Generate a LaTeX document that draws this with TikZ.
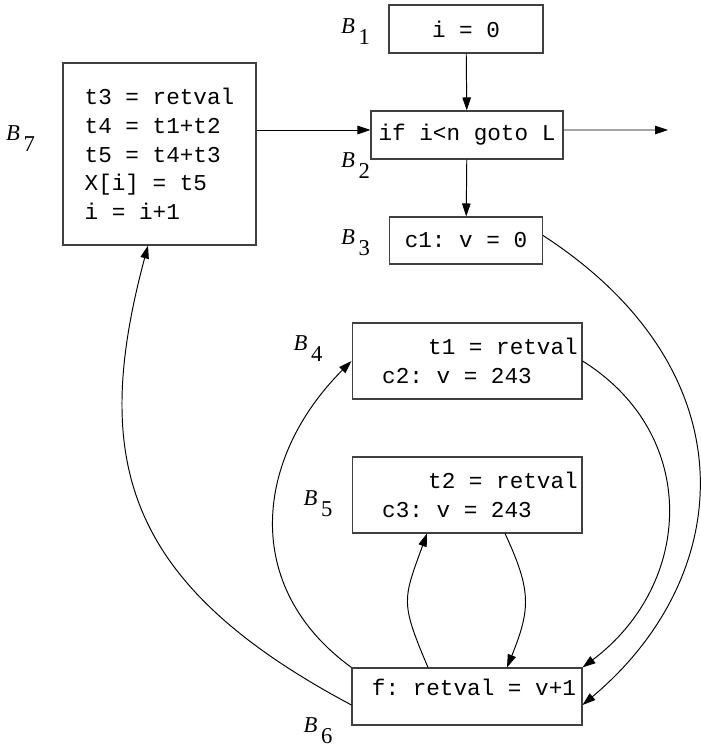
\documentclass[tikz,border=0pt]{standalone}
\usepackage{fontspec}
\setmainfont{Liberation Serif}
\setmonofont{Liberation Mono}
\usetikzlibrary{arrows.meta}

\newcommand{\blab}[1]{\textit{B}\hspace{2pt}\raisebox{-6.2pt}{#1}}

\begin{document}
\begin{tikzpicture}[
  x=0.02cm, y=0.02cm,
  blk/.style={draw=black!75, line width=0.6pt, inner sep=0pt, font=\fontsize{12.9}{16.3}\selectfont\ttfamily},
  lbl/.style={inner sep=0pt, font=\fontsize{12.9}{14}\selectfont},
  conn/.style={-{Triangle[length=0.26cm, width=0.17cm]}, line width=0.55pt}
]
\useasboundingbox (0,0) rectangle (700,747);

% basic blocks
\node[blk, minimum width=3.08cm, minimum height=0.96cm] (b1) at (466,718) {i = 0};
\node[blk, minimum width=3.84cm, minimum height=0.96cm] (b2) at (467,612) {if i<n goto L};
\node[blk, minimum width=3.06cm, minimum height=0.94cm] (b3) at (466,506.5) {c1: v = 0};
\node[blk, minimum width=3.86cm, minimum height=3.64cm, align=left] (b7) at (159.5,593)
  {t3 = retval\\t4 = t1+t2\\t5 = t4+t3\\X[i] = t5\\i = i+1};
\node[blk, minimum width=4.6cm, minimum height=1.52cm, align=left] (b4) at (467,386)
  {\hspace*{1.52cm}t1 = retval\hspace*{0.08cm}\\\hspace*{0.6cm}c2: v = 243};
\node[blk, minimum width=4.6cm, minimum height=1.52cm, align=left] (b5) at (467,252)
  {\hspace*{1.52cm}t2 = retval\hspace*{0.08cm}\\\hspace*{0.6cm}c3: v = 243};
\node[blk, minimum width=4.6cm, minimum height=1.14cm, text height=0.3cm, text depth=0.36cm] (b6) at (467,50.5)
  {\hspace*{0.4cm}f: retval = v+1\hspace*{0.12cm}};

% block names
\node[lbl] (lb1) at (355.5,715) {\blab{1}};
\node[lbl] (lb2) at (355.5,581) {\blab{2}};
\node[lbl] (lb3) at (355.5,504.5) {\blab{3}};
\node[lbl] (lb4) at (308,398.5) {\blab{4}};
\node[lbl] (lb5) at (318,243.5) {\blab{5}};
\node[lbl] (lb6) at (318,16.5) {\blab{6}};
\node[lbl] (lb7) at (20.5,608.5) {\blab{7}};

% edges
\coordinate (in2) at ([yshift=0.1cm]b2.west);
\coordinate (out2) at (668,617);
\draw[conn] (b1) -- (b2);
\draw[conn] (b2) -- (b3);
\draw[conn] (b7.east |- in2) -- (in2);
\draw[conn] (b2.east |- in2) -- (out2);
\draw[conn] ([yshift=0.1cm]b3.east) .. controls +(-33:250) and +(40:200) .. ([yshift=-0.17cm]b6.east);
\draw[conn] (b4.east) .. controls +(-32:139) and +(37:139) .. (b6.north east);
\draw[conn] ([xshift=0.76cm]b5.south) .. controls +(-65:63) and +(68:63) .. ([xshift=0.8cm]b6.north);
\draw[conn] ([xshift=-0.78cm]b6.north) .. controls +(113:71) and +(-110:71) .. ([xshift=-0.8cm]b5.south);
\draw[conn] (b6.north west) .. controls +(144:137) and +(-135:137) .. (b4.west);
\draw[conn] ([yshift=-0.17cm]b6.west) .. controls +(152:260) and +(-105:220) .. ([xshift=-0.23cm]b7.south);
\end{tikzpicture}
\end{document}
